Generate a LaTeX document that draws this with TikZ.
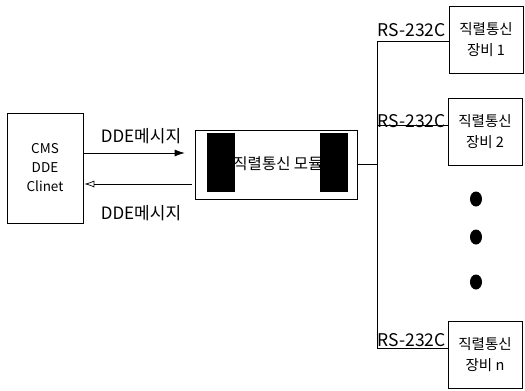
\documentclass[tikz,border=0pt]{standalone}
\usepackage{fontspec}
\setmainfont{Noto Sans CJK KR}
\usetikzlibrary{arrows.meta,calc,shapes.geometric}

\begin{document}
\begin{tikzpicture}[x=1pt, y=-1pt, line width=0.7pt,
  box/.style={draw, inner sep=0pt, align=center},
  cmsbox/.style={box, minimum width=76pt, minimum height=110pt,
    font=\fontsize{13.5}{19}\selectfont},
  devbox/.style={box, minimum width=74pt, minimum height=67pt,
    font=\fontsize{14.5}{21}\selectfont},
  blk/.style={fill=black, inner sep=0pt, minimum width=28pt, minimum height=59pt},
  msg/.style={font=\fontsize{17}{17}\selectfont},
  rs/.style={font=\fontsize{17.5}{17.5}\selectfont, inner sep=0pt, anchor=east},
  eldot/.style={fill=black, ellipse, inner sep=0pt, minimum width=12pt, minimum height=15pt}]
  \useasboundingbox (0,0) rectangle (525,391);
  % 클라이언트
  \node[cmsbox] (cms) at (45,168) {CMS\\DDE\\Clinet};
  % 직렬통신 모듈
  \node[box, minimum width=162pt, minimum height=69pt] (mod) at (276,164.5) {};
  \node[blk] (modl) at (221,162.5) {};
  \node[blk] (modr) at (333.5,162.5) {};
  \node[font=\fontsize{15.5}{15.5}\selectfont, inner sep=0pt] (modt) at (278,164) {직렬통신 모듈};
  % 메시지
  \draw[-{Latex[length=10pt,width=7pt]}] ([yshift=15pt]cms.east)
    -- ($(cms.east -| mod.west)+(-10pt,15pt)$);
  \draw[-{Latex[open,length=10pt,width=7pt]}] ($(cms.east -| mod.west)+(-3pt,-16pt)$)
    -- ([yshift=-16pt,xshift=1pt]cms.east);
  \node[msg] (msg1) at (141,136) {DDE메시지};
  \node[msg] (msg2) at (141,213) {DDE메시지};
  % 장비
  \node[devbox] (dev1) at (486,40) {직렬통신\\장비 1};
  \node[devbox] (dev2) at (485,131.5) {직렬통신\\장비 2};
  \node[devbox] (devn) at (485,355) {직렬통신\\장비 n};
  % 버스
  \coordinate (bus1) at (377,41);
  \coordinate (bus2) at (377,125);
  \coordinate (busn) at (377,348);
  \draw (mod.east) -- (mod.east -| bus1);
  \draw (dev1.west |- bus1) -- (bus1) -- (busn) -- (devn.west |- busn);
  \draw (bus2) -- (dev2.west |- bus2);
  \node[rs] (rs1) at (446,30) {RS-232C};
  \node[rs] (rs2) at (446,121) {RS-232C};
  \node[rs] (rsn) at (446,340) {RS-232C};
  % 생략
  \node[eldot] (d1) at (476,199) {};
  \node[eldot] (d2) at (476,237) {};
  \node[eldot] (d3) at (476,282) {};
\end{tikzpicture}
\end{document}
